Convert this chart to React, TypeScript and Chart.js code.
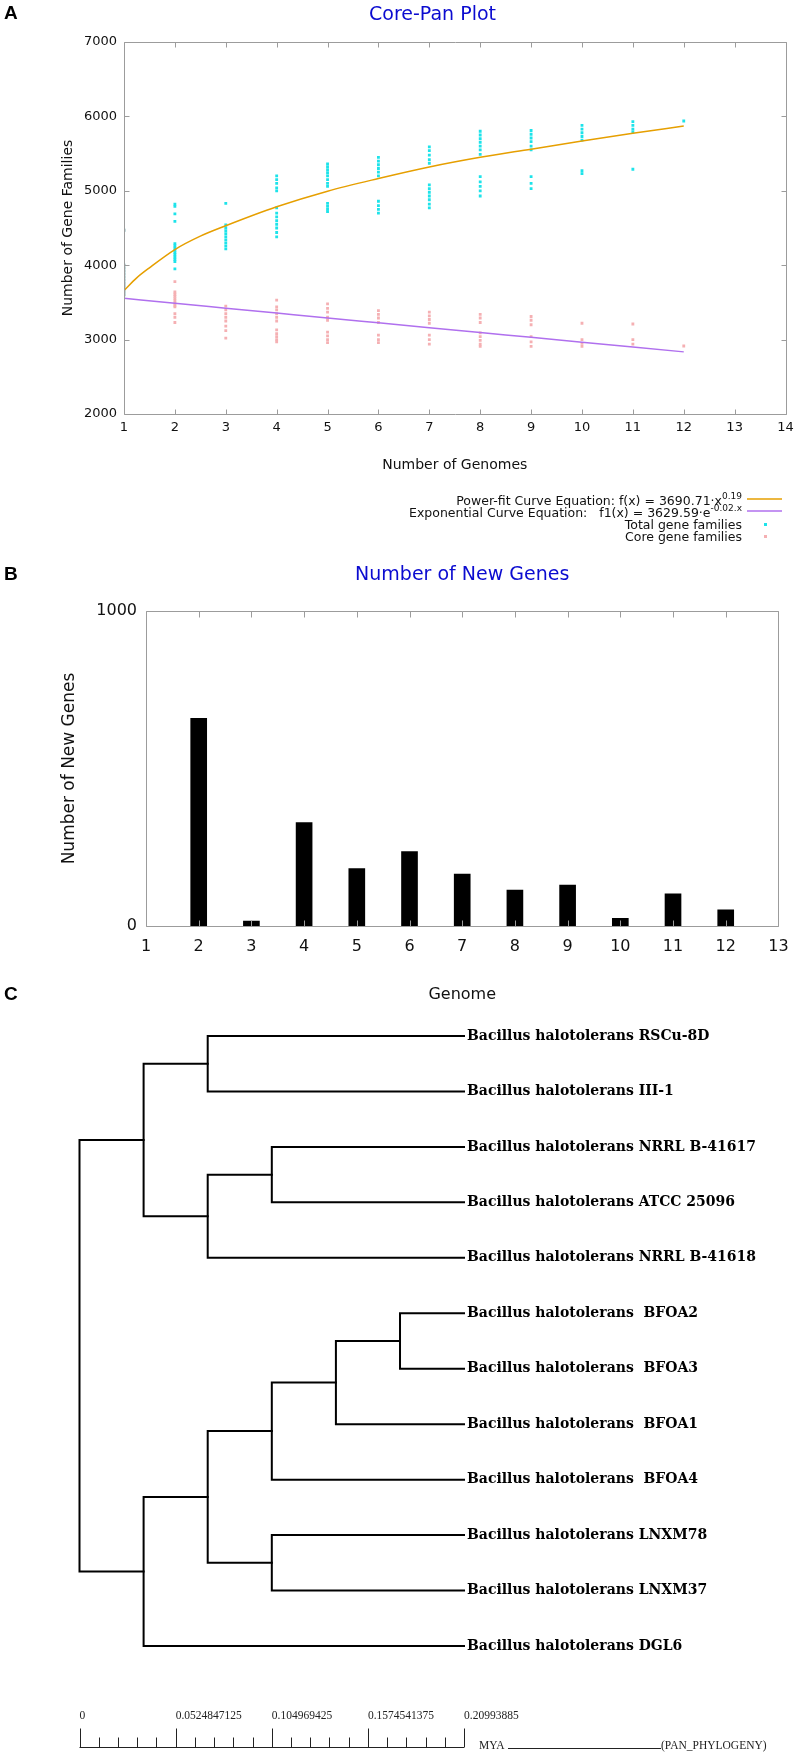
import React, { useEffect, useRef } from 'react';
import { Chart, registerables } from 'chart.js';

Chart.register(...registerables);

const SANS = '"DejaVu Sans", Verdana, sans-serif';
const SERIF = '"DejaVu Serif", Georgia, serif';
const TIMES = '"Liberation Serif", "Times New Roman", serif';
const LETTER = '"Liberation Sans", Arial, sans-serif';
const FRAME = '#9c9c9c';
const BLUE = '#0b0bd0';
const ORANGE = '#e69f00';
const PURPLE = '#b070ee';
const CYAN = '#1de3ea';
const PINK = '#f5b0b3';
const INK = '#111111';

// ---------------- Panel A: Core-Pan plot ----------------
const genomeCounts = [1, 2, 3, 4, 5, 6, 7, 8, 9, 10, 11, 12];
const totalFamilies: number[][] = [
  [4470, 4000, 3960, 3920, 3880, 3840, 3800, 3760, 3720, 3680, 3640, 3600],
  [4820, 4790, 4690, 4590, 4290, 4260, 4230, 4200, 4170, 4140, 4110, 4080, 4050, 3950],
  [4830, 4540, 4500, 4460, 4420, 4380, 4340, 4300, 4260, 4220],
  [5200, 5150, 5100, 5040, 5000, 4770, 4700, 4650, 4600, 4550, 4500, 4440, 4380],
  [5360, 5320, 5280, 5240, 5200, 5150, 5100, 5060, 4830, 4790, 4750, 4720],
  [5450, 5400, 5350, 5300, 5250, 5200, 4860, 4800, 4750, 4700],
  [5590, 5540, 5480, 5420, 5370, 5080, 5030, 4980, 4930, 4880, 4820, 4770],
  [5800, 5750, 5700, 5650, 5600, 5550, 5490, 5190, 5120, 5060, 5000, 4930],
  [5810, 5760, 5710, 5660, 5600, 5550, 5190, 5100, 5030],
  [5880, 5830, 5780, 5730, 5680, 5270, 5230],
  [5930, 5880, 5830, 5790, 5290],
  [5938],
];
const coreFamilies: number[][] = [
  [4470, 4000, 3960, 3920, 3880, 3840, 3800, 3760, 3720, 3680, 3640, 3600],
  [3780, 3640, 3610, 3580, 3550, 3520, 3490, 3460, 3440, 3350, 3300, 3230],
  [3450, 3400, 3350, 3300, 3250, 3180, 3120, 3020],
  [3530, 3440, 3400, 3350, 3300, 3250, 3130, 3080, 3040, 3000, 2970],
  [3480, 3420, 3370, 3300, 3260, 3100, 3050, 3000, 2960],
  [3390, 3340, 3290, 3230, 3060, 3000, 2960],
  [3370, 3320, 3270, 3220, 3060, 3000, 2940],
  [3340, 3290, 3230, 3090, 3040, 2990, 2940, 2910],
  [3310, 3260, 3200, 3040, 2970, 2910],
  [3220, 3000, 2950, 2910],
  [3210, 3000, 2940],
  [2914],
];
const powerFitX = [1, 1.25, 1.5, 2, 2.5, 3, 4, 5, 6, 7, 8, 9, 10, 11, 12];
const powerFitY = [3660, 3830, 3965, 4210, 4390, 4530, 4785, 4995, 5165, 5320, 5450, 5560, 5670, 5775, 5870];
const expFitY = [3555, 3488, 3422, 3356, 3290, 3225, 3160, 3095, 3030, 2965, 2900, 2835];
const legendLabels = [
  'Power-fit Curve Equation: f(x) = 3690.71·x',
  'Exponential Curve Equation:   f1(x) = 3629.59·e',
  'Total gene families',
  'Core gene families',
];
const legendSups = ['0.19', '-0.02.x', '', ''];
const legendKinds = ['line', 'line', 'point', 'point'];
const legendColors = [ORANGE, PURPLE, CYAN, PINK];

// ---------------- Panel B: new genes ----------------
const newGeneGenomes = [2, 3, 4, 5, 6, 7, 8, 9, 10, 11, 12];
const newGeneCounts = [659, 16, 328, 182, 236, 165, 114, 130, 24, 102, 51];

// ---------------- Panel C: phylogeny ----------------
const leafNames = [
  'Bacillus halotolerans RSCu-8D',
  'Bacillus halotolerans III-1',
  'Bacillus halotolerans NRRL B-41617',
  'Bacillus halotolerans ATCC 25096',
  'Bacillus halotolerans NRRL B-41618',
  'Bacillus halotolerans  BFOA2',
  'Bacillus halotolerans  BFOA3',
  'Bacillus halotolerans  BFOA1',
  'Bacillus halotolerans  BFOA4',
  'Bacillus halotolerans LNXM78',
  'Bacillus halotolerans LNXM37',
  'Bacillus halotolerans DGL6',
];
const leafDepth = 0.20993885;
const nodeNames = ['root', 'A', 'A1', 'A2', 'A21', 'B', 'C', 'BF', 'BF1', 'BF2', 'LN'];
const nodeDepths = [0, 0.035, 0.07, 0.07, 0.105, 0.035, 0.07, 0.105, 0.14, 0.175, 0.105];
const nodeChildren: (string | number)[][] = [
  ['A', 'B'],
  ['A1', 'A2'],
  [0, 1],
  ['A21', 4],
  [2, 3],
  ['C', 11],
  ['BF', 'LN'],
  ['BF1', 8],
  ['BF2', 7],
  [5, 6],
  [9, 10],
];
const scaleTicks = [0, 0.0524847125, 0.104969425, 0.1574541375, 0.20993885];
const scaleTickLabels = ['0', '0.0524847125', '0.104969425', '0.1574541375', '0.20993885'];
const minorPerMajor = 4;

// ---------------- plugins ----------------
function framePlugin(tickLen: number) {
  return {
    id: 'gnuFrame',
    afterDatasetsDraw(chart: any) {
      const { ctx, chartArea: a, scales } = chart;
      const xs = scales.x;
      const ys = scales.y;
      const L = Math.round(a.left) + 0.5;
      const R = Math.round(a.right) + 0.5;
      const T = Math.round(a.top) + 0.5;
      const B = Math.round(a.bottom) + 0.5;
      ctx.save();
      ctx.strokeStyle = FRAME;
      ctx.lineWidth = 1;
      ctx.beginPath();
      ctx.rect(L, T, R - L, B - T);
      for (const t of xs.ticks) {
        const p = Math.round(xs.getPixelForValue(t.value)) + 0.5;
        ctx.moveTo(p, B);
        ctx.lineTo(p, B - tickLen);
        ctx.moveTo(p, T);
        ctx.lineTo(p, T + tickLen);
      }
      for (const t of ys.ticks) {
        const p = Math.round(ys.getPixelForValue(t.value)) + 0.5;
        ctx.moveTo(L, p);
        ctx.lineTo(L + tickLen, p);
        ctx.moveTo(R, p);
        ctx.lineTo(R - tickLen, p);
      }
      ctx.stroke();
      ctx.restore();
    },
  };
}

function letterPlugin(text: string, x: number, y: number) {
  return {
    id: 'panelLetter',
    afterDraw(chart: any) {
      const ctx = chart.ctx;
      ctx.save();
      ctx.font = `bold 19px ${LETTER}`;
      ctx.fillStyle = '#000';
      ctx.textAlign = 'left';
      ctx.textBaseline = 'middle';
      ctx.fillText(text, x, y);
      ctx.restore();
    },
  };
}

const legendPlugin = {
  id: 'gnuLegend',
  afterDraw(chart: any) {
    const ctx = chart.ctx;
    const right = 742;
    const top = 502;
    const gap = 12;
    ctx.save();
    legendLabels.forEach((label, i) => {
      const y = top + i * gap;
      ctx.font = `9px ${SANS}`;
      const supW = legendSups[i] ? ctx.measureText(legendSups[i]).width : 0;
      ctx.fillStyle = INK;
      ctx.textBaseline = 'middle';
      ctx.font = `12.5px ${SANS}`;
      ctx.textAlign = 'right';
      ctx.fillText(label, right - supW, y);
      if (legendSups[i]) {
        ctx.font = `9px ${SANS}`;
        ctx.textAlign = 'left';
        ctx.fillText(legendSups[i], right - supW, y - 5);
      }
      if (legendKinds[i] === 'line') {
        ctx.strokeStyle = legendColors[i];
        ctx.lineWidth = 1.5;
        ctx.beginPath();
        ctx.moveTo(747, y - 3);
        ctx.lineTo(782, y - 3);
        ctx.stroke();
      } else {
        ctx.fillStyle = legendColors[i];
        ctx.fillRect(764, y - 3, 3, 3);
      }
    });
    ctx.restore();
  },
};

function treeTextPlugin() {
  return {
    id: 'treeText',
    afterDraw(chart: any) {
      const { ctx, scales, chartArea } = chart;
      const xs = scales.x;
      const ys = scales.y;
      ctx.save();
      ctx.fillStyle = '#000';
      ctx.font = `bold 14px ${SERIF}`;
      ctx.textAlign = 'left';
      ctx.textBaseline = 'middle';
      leafNames.forEach((name, i) => {
        ctx.fillText(name, xs.getPixelForValue(leafDepth) + 3, ys.getPixelForValue(i));
      });
      // time scale bar
      const barY = Math.round(chartArea.bottom + 101) + 0.5;
      const x0 = xs.getPixelForValue(scaleTicks[0]);
      const x1 = xs.getPixelForValue(scaleTicks[scaleTicks.length - 1]);
      ctx.strokeStyle = '#222';
      ctx.lineWidth = 1;
      ctx.beginPath();
      ctx.moveTo(x0, barY);
      ctx.lineTo(x1, barY);
      for (let k = 0; k < scaleTicks.length; k++) {
        const p = Math.round(xs.getPixelForValue(scaleTicks[k])) + 0.5;
        ctx.moveTo(p, barY);
        ctx.lineTo(p, barY - 19);
        if (k < scaleTicks.length - 1) {
          for (let m = 1; m <= minorPerMajor; m++) {
            const v = scaleTicks[k] + ((scaleTicks[k + 1] - scaleTicks[k]) * m) / (minorPerMajor + 1);
            const q = Math.round(xs.getPixelForValue(v)) + 0.5;
            ctx.moveTo(q, barY);
            ctx.lineTo(q, barY - 10);
          }
        }
      }
      ctx.stroke();
      ctx.font = `11.5px ${TIMES}`;
      ctx.fillStyle = '#222';
      ctx.textBaseline = 'middle';
      scaleTickLabels.forEach((lab, k) => {
        ctx.fillText(lab, xs.getPixelForValue(scaleTicks[k]), barY - 32);
      });
      ctx.fillText('MYA', x1 + 15, barY - 2);
      ctx.beginPath();
      ctx.moveTo(x1 + 44, barY + 1);
      ctx.lineTo(x1 + 197, barY + 1);
      ctx.stroke();
      ctx.fillText('(PAN_PHYLOGENY)', x1 + 197, barY - 2);
      ctx.restore();
    },
  };
}

// ---------------- configs ----------------
const tickFont = (size: number) => ({ family: SANS, size });

function configA(): any {
  const totalPts = totalFamilies.flatMap((vals, i) => vals.map((v) => ({ x: genomeCounts[i], y: v })));
  const corePts = coreFamilies.flatMap((vals, i) => vals.map((v) => ({ x: genomeCounts[i], y: v })));
  return {
    type: 'scatter',
    data: {
      datasets: [
        {
          label: 'Power-fit Curve Equation',
          data: powerFitX.map((x, i) => ({ x, y: powerFitY[i] })),
          showLine: true,
          borderColor: ORANGE,
          borderWidth: 1.5,
          pointRadius: 0,
          cubicInterpolationMode: 'monotone',
        },
        {
          label: 'Exponential Curve Equation',
          data: genomeCounts.map((x, i) => ({ x, y: expFitY[i] })),
          showLine: true,
          borderColor: PURPLE,
          borderWidth: 1.5,
          pointRadius: 0,
          cubicInterpolationMode: 'monotone',
        },
        {
          label: 'Core gene families',
          data: corePts,
          pointStyle: 'rect',
          pointRadius: 2,
          backgroundColor: PINK,
          borderWidth: 0,
        },
        {
          label: 'Total gene families',
          data: totalPts,
          pointStyle: 'rect',
          pointRadius: 2,
          backgroundColor: CYAN,
          borderWidth: 0,
        },
      ],
    },
    options: {
      animation: false,
      responsive: false,
      devicePixelRatio: 1,
      layout: { padding: { left: 78, right: 13, top: 0, bottom: 0 } },
      plugins: {
        legend: { display: false },
        tooltip: { enabled: false },
        title: {
          display: true,
          text: 'Core-Pan Plot',
          color: BLUE,
          font: { family: SANS, size: 19, weight: 'normal', lineHeight: 1.2 },
          padding: { top: 3.6, bottom: 15.6 },
        },
      },
      scales: {
        x: {
          type: 'linear',
          min: 1,
          max: 14,
          afterFit: (s: any) => { s.height = 146; },
          grid: { display: false, drawTicks: false },
          border: { display: false },
          ticks: { stepSize: 1, maxTicksLimit: 30, padding: 6.2, font: tickFont(13), color: INK, callback: (v: any) => String(v) },
          title: { display: true, text: 'Number of Genomes', color: INK, font: { family: SANS, size: 14 }, padding: { top: 0, bottom: 86.6 } },
        },
        y: {
          type: 'linear',
          min: 2000,
          max: 7000,
          afterFit: (s: any) => { s.width = 46; },
          grid: { display: false, drawTicks: false },
          border: { display: false },
          ticks: { stepSize: 1000, padding: 7, font: tickFont(13), color: INK, callback: (v: any) => String(v) },
          title: { display: true, text: 'Number of Gene Families', color: INK, font: { family: SANS, size: 14 }, padding: { top: -18.4, bottom: 0 } },
        },
      },
    },
    plugins: [framePlugin(5), legendPlugin, letterPlugin('A', 4, 14)],
  };
}

function configB(): any {
  return {
    type: 'bar',
    data: {
      datasets: [
        {
          label: 'Number of New Genes',
          data: newGeneGenomes.map((x, i) => ({ x, y: newGeneCounts[i] })),
          backgroundColor: '#000',
          borderWidth: 0,
          barThickness: 16,
        },
      ],
    },
    options: {
      animation: false,
      responsive: false,
      devicePixelRatio: 1,
      layout: { padding: { left: 0, right: 18, top: 0, bottom: 0 } },
      plugins: {
        legend: { display: false },
        tooltip: { enabled: false },
        title: {
          display: true,
          fullSize: false,
          text: 'Number of New Genes',
          color: BLUE,
          font: { family: SANS, size: 19, weight: 'normal', lineHeight: 1.2 },
          padding: { top: 3.6, bottom: 24.6 },
        },
      },
      scales: {
        x: {
          type: 'linear',
          min: 1,
          max: 13,
          offset: false,
          afterFit: (s: any) => { s.height = 84; },
          grid: { display: false, drawTicks: false, offset: false },
          border: { display: false },
          ticks: { stepSize: 1, maxTicksLimit: 30, padding: 11.4, font: tickFont(16), color: INK, callback: (v: any) => String(v) },
          title: { display: true, text: 'Genome', color: INK, font: { family: SANS, size: 16 }, padding: { top: 0, bottom: 5.4 } },
        },
        y: {
          type: 'linear',
          min: 0,
          max: 1000,
          afterFit: (s: any) => { s.width = 146; },
          grid: { display: false, drawTicks: false },
          border: { display: false },
          ticks: { stepSize: 1000, padding: 9, font: tickFont(16), color: INK, callback: (v: any) => String(v) },
          title: { display: true, text: 'Number of New Genes', color: INK, font: { family: SANS, size: 17 }, padding: { top: 59.8, bottom: 0 } },
        },
      },
    },
    plugins: [framePlugin(6), letterPlugin('B', 4, 15)],
  };
}

function configC(): any {
  const nodeY: Record<string, number> = {};
  const childX = (c: string | number) => (typeof c === 'number' ? leafDepth : nodeDepths[nodeNames.indexOf(c)]);
  const childY = (c: string | number): number => {
    if (typeof c === 'number') return c;
    if (nodeY[c] !== undefined) return nodeY[c];
    const kids = nodeChildren[nodeNames.indexOf(c)];
    const y = kids.reduce((s, k) => s + childY(k), 0) / kids.length;
    nodeY[c] = y;
    return y;
  };
  const datasets = nodeNames.map((name, i) => {
    const [c1, c2] = nodeChildren[i];
    const y1 = childY(c1);
    const y2 = childY(c2);
    const d = nodeDepths[i];
    return {
      label: name,
      data: [
        { x: childX(c1), y: y1 },
        { x: d, y: y1 },
        { x: d, y: y2 },
        { x: childX(c2), y: y2 },
      ],
      showLine: true,
      borderColor: '#000',
      borderWidth: 2,
      borderJoinStyle: 'miter',
      borderCapStyle: 'square',
      pointRadius: 0,
      clip: false,
    };
  });
  return {
    type: 'scatter',
    data: { datasets },
    options: {
      animation: false,
      responsive: false,
      devicePixelRatio: 1,
      layout: { padding: { left: 79.5, right: 336, top: 56, bottom: 107 } },
      plugins: { legend: { display: false }, tooltip: { enabled: false }, title: { display: false } },
      scales: {
        x: { type: 'linear', min: 0, max: leafDepth, display: false },
        y: { type: 'linear', min: 0, max: leafNames.length - 1, reverse: true, display: false },
      },
    },
    plugins: [treeTextPlugin(), letterPlugin('C', 4, 15)],
  };
}

function ChartCanvas({ top, height, makeConfig }: { top: number; height: number; makeConfig: () => any }) {
  const ref = useRef<HTMLCanvasElement>(null);
  useEffect(() => {
    const chart = new Chart(ref.current as HTMLCanvasElement, makeConfig());
    return () => chart.destroy();
  }, [makeConfig]);
  return (
    <canvas
      ref={ref}
      width={800}
      height={height}
      style={{ position: 'absolute', left: 0, top, width: 800, height }}
    />
  );
}

export default function App() {
  return (
    <div style={{ position: 'absolute', left: 0, top: 0, width: 800, height: 1753, background: '#fff', overflow: 'hidden' }}>
      <ChartCanvas top={0} height={560} makeConfig={configA} />
      <ChartCanvas top={560} height={450} makeConfig={configB} />
      <ChartCanvas top={980} height={773} makeConfig={configC} />
    </div>
  );
}
